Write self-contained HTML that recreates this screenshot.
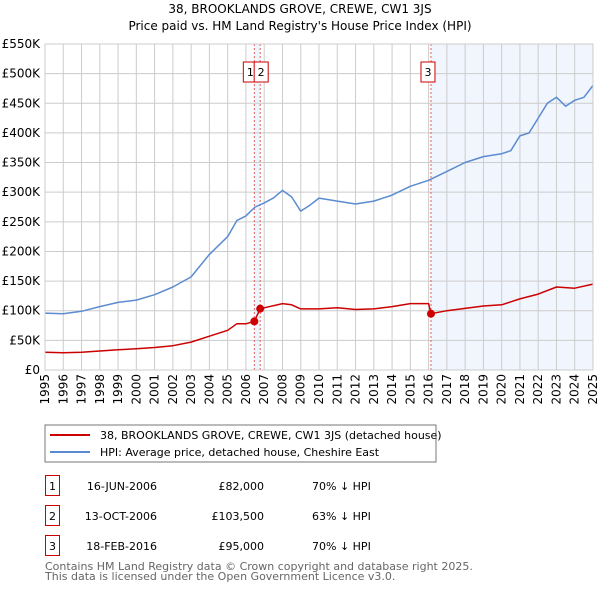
<!DOCTYPE html>
<html><head><meta charset="utf-8"><style>
body{margin:0;background:#fff}
svg{display:block;font-family:"DejaVu Sans","Liberation Sans",sans-serif}
</style></head><body>
<svg id="chart" width="600" height="590" viewBox="0 0 600 590">
<text x="300" y="13" text-anchor="middle" font-size="12">38, BROOKLANDS GROVE, CREWE, CW1 3JS</text>
<text x="300" y="30" text-anchor="middle" font-size="12">Price paid vs. HM Land Registry's House Price Index (HPI)</text>
<g id="plot"></g>
<rect x="45" y="425" width="391" height="37" fill="#fff" stroke="#777"/>
<line x1="50" y1="435" x2="90" y2="435" stroke="#cc0000" stroke-width="2"/>
<text x="100" y="439" font-size="11">38, BROOKLANDS GROVE, CREWE, CW1 3JS (detached house)</text>
<line x1="50" y1="452" x2="90" y2="452" stroke="#5b8bd0" stroke-width="2"/>
<text x="100" y="456" font-size="11">HPI: Average price, detached house, Cheshire East</text>
<g font-size="11">
<rect x="45.5" y="475.5" width="14" height="20" fill="none" stroke="#cc0000"/>
<text x="52.5" y="490" text-anchor="middle">1</text>
<text x="157" y="490" text-anchor="end">16-JUN-2006</text>
<text x="264" y="490" text-anchor="end">£82,000</text>
<text x="312" y="490">70% ↓ HPI</text>
<rect x="45.5" y="505.5" width="14" height="20" fill="none" stroke="#cc0000"/>
<text x="52.5" y="520" text-anchor="middle">2</text>
<text x="157" y="520" text-anchor="end">13-OCT-2006</text>
<text x="264" y="520" text-anchor="end">£103,500</text>
<text x="312" y="520">63% ↓ HPI</text>
<rect x="45.5" y="535.5" width="14" height="20" fill="none" stroke="#cc0000"/>
<text x="52.5" y="550" text-anchor="middle">3</text>
<text x="157" y="550" text-anchor="end">18-FEB-2016</text>
<text x="264" y="550" text-anchor="end">£95,000</text>
<text x="312" y="550">70% ↓ HPI</text>
</g>
<text x="45" y="570" font-size="11" fill="#666">Contains HM Land Registry data © Crown copyright and database right 2025.</text>
<text x="45" y="580" font-size="11" fill="#666">This data is licensed under the Open Government Licence v3.0.</text>
</svg>
<script>
const yearTicks=[1995,1996,1997,1998,1999,2000,2001,2002,2003,2004,2005,2006,2007,2008,2009,2010,2011,2012,2013,2014,2015,2016,2017,2018,2019,2020,2021,2022,2023,2024,2025];
const valueTicks=[0,50,100,150,200,250,300,350,400,450,500,550];
const valueTickLabels=["£0","£50K","£100K","£150K","£200K","£250K","£300K","£350K","£400K","£450K","£500K","£550K"];
const hpiYears=[1995,1996,1997,1998,1999,2000,2001,2002,2003,2004,2005,2005.5,2006,2006.5,2007,2007.5,2008,2008.5,2009,2009.5,2010,2011,2012,2013,2014,2015,2016,2017,2018,2019,2020,2020.5,2021,2021.5,2022,2022.5,2023,2023.5,2024,2024.5,2025];
const hpiValues=[96,95,99,107,114,118,127,140,157,195,225,252,260,275,282,290,303,292,268,278,290,285,280,285,295,310,320,335,350,360,365,370,395,400,425,450,460,445,455,460,480];
const propYears=[1995,1996,1997,1998,1999,2000,2001,2002,2003,2004,2005,2005.5,2006,2006.46,2006.78,2007,2008,2008.5,2009,2010,2011,2012,2013,2014,2015,2016,2016.13,2017,2018,2019,2020,2021,2022,2023,2024,2025];
const propValues=[30,29,30,32,34,36,38,41,47,57,67,78,78,82,103.5,105,112,110,103,103,105,102,103,107,112,112,95,100,104,108,110,120,128,140,138,145];
const saleYears=[2006.46,2006.78,2016.13];
const saleValues=[82,103.5,95];
const saleLabels=["1","2","3"];

const NS="http://www.w3.org/2000/svg";
const L=45,R=593,T=44,B=370;
const xs=y=>L+(y-1995)/30*(R-L);
const ys=v=>B-v/550*(B-T);
const plot=document.getElementById('plot');
function mk(tag,attrs,parent){const e=document.createElementNS(NS,tag);for(const k in attrs)e.setAttribute(k,attrs[k]);(parent||plot).appendChild(e);return e;}

mk('rect',{x:xs(saleYears[0]),y:T,width:xs(saleYears[1])-xs(saleYears[0]),height:B-T,fill:'#eef3fc'});
const shade=mk('rect',{x:xs(saleYears[2]),y:T,width:R-xs(saleYears[2]),height:B-T,fill:'#f1f5fd'});



yearTicks.forEach(yr=>{
  const g=mk('line',{x1:xs(yr),x2:xs(yr),y1:T,y2:B,stroke:'#cccccc'});
  
  
  const tx=xs(yr)+4, ty=B+4;
  const t=mk('text',{x:tx,y:ty,'font-size':12,'text-anchor':'end',transform:'rotate(-90 '+tx+' '+ty+')'});
  t.textContent=yr;
  
  
});
valueTicks.forEach((v,i)=>{
  const g=mk('line',{x1:L,x2:R,y1:ys(v),y2:ys(v),stroke:'#cccccc'});
  
  
  const t=mk('text',{x:L-5,y:ys(v)+4,'font-size':12,'text-anchor':'end'});
  t.textContent=valueTickLabels[i];
  
  
});
saleYears.forEach((yr,i)=>{
  const l=mk('line',{x1:xs(yr),x2:xs(yr),y1:T,y2:B,stroke:'#e06060','stroke-dasharray':'2,2'});
  
  
});
function path(xsArr,vals,color,name){
  const d=xsArr.map((yr,i)=>(i?'L':'M')+xs(yr).toFixed(1)+','+ys(vals[i]).toFixed(1)).join('');
  const p=mk('path',{d:d,fill:'none',stroke:color,'stroke-width':1.5,'stroke-linejoin':'round'});
  
  
}
path(hpiYears,hpiValues,'#5b8bd0','hpi-line');
path(propYears,propValues,'#cc0000','property-line');
saleYears.forEach((yr,i)=>{
  const c=mk('circle',{cx:xs(yr),cy:ys(saleValues[i]),r:4,fill:'#cc0000'});
  
  
  const rx=i===0?xs(yr)-11:(i===1?xs(yr)-6:xs(yr)-10);
  const r=mk('rect',{x:rx,y:62,width:14,height:20,fill:'#fff',stroke:'#cc0000'});
  
  
  const t=mk('text',{x:rx+7,y:76,'font-size':11,'text-anchor':'middle'});
  t.textContent=saleLabels[i];
  
  
});
const fr=mk('rect',{x:L,y:T,width:R-L,height:B-T,fill:'none',stroke:'#cccccc'});


</script>
</body></html>
